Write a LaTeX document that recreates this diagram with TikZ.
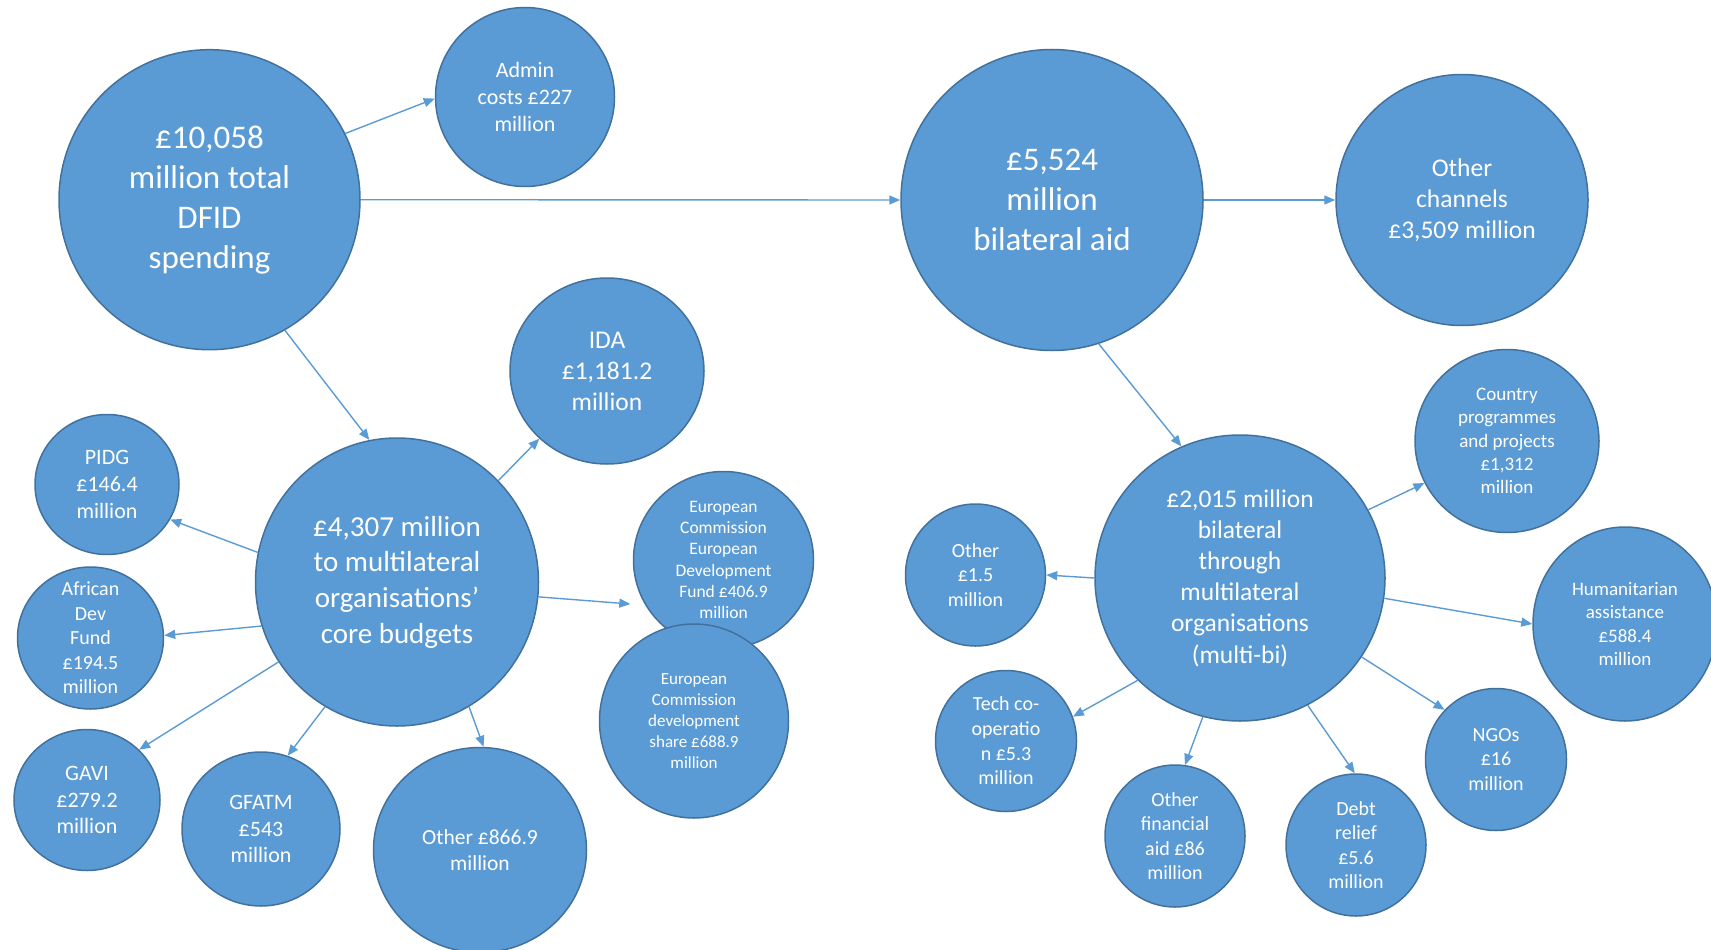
\documentclass[tikz,border=0pt]{standalone}
\usepackage{fontspec}
\setmainfont{Carlito}
\usetikzlibrary{shapes.geometric, arrows.meta}

\definecolor{bubblefill}{HTML}{5B9BD5}
\definecolor{bubbleedge}{HTML}{41719C}

\tikzset{
  bubble/.style={ellipse, draw=bubbleedge, line width=1.5pt, fill=bubblefill,
    text=white, align=center, inner sep=-20pt},
  flow/.style={draw=bubblefill, line width=1.4pt, -{Triangle[length=11pt, width=9pt]}},
}
\newcommand{\fs}[2]{\fontsize{#1}{#2}\selectfont}

\begin{document}
\begin{tikzpicture}[x=1pt, y=-1pt]
  \useasboundingbox (0,0) rectangle (1711,950);

  % top row: total spending, admin, bilateral
  \node[bubble, minimum width=301, minimum height=300, font=\fs{33}{40}] (total) at (209.5,199.7)
    {£10,058\\million total\\DFID\\spending};
  \node[bubble, minimum width=179, minimum height=179, font=\fs{22}{26.7}] (admin) at (525,97)
    {Admin\\costs £227\\million};
  \node[bubble, minimum width=302, minimum height=301, font=\fs{33}{40}] (bilat) at (1052,200)
    {£5,524\\million\\bilateral aid};
  \node[bubble, minimum width=252, minimum height=251, font=\fs{25.5}{31}] (channels) at (1462,200)
    {Other\\channels\\£3,509 million};

  % multilateral core budgets and where they go
  \node[bubble, minimum width=283, minimum height=288, font=\fs{29}{35.7}] (multi) at (397,582)
    {£4,307 million\\to multilateral\\organisations’\\core budgets};
  \node[bubble, minimum width=194, minimum height=186, font=\fs{25.5}{31}] (ida) at (607,371)
    {IDA\\£1,181.2\\million};
  \node[bubble, minimum width=144, minimum height=140, font=\fs{22}{26.7}] (pidg) at (107,484.5)
    {PIDG\\£146.4\\million};
  \node[bubble, minimum width=146, minimum height=142, font=\fs{20}{24.5}] (afdf) at (90.5,638)
    {African\\Dev\\Fund\\£194.5\\million};
  \node[bubble, minimum width=146, minimum height=141, font=\fs{22}{26.7}] (gavi) at (87,800)
    {GAVI\\£279.2\\million};
  \node[bubble, minimum width=158, minimum height=154, font=\fs{22}{26.7}] (gfatm) at (261,829)
    {GFATM\\£543\\million};
  \node[bubble, minimum width=213, minimum height=205, font=\fs{21.5}{26.2}] (othermulti) at (480,850)
    {Other £866.9\\million};
  \node[bubble, minimum width=180, minimum height=177, font=\fs{17.5}{21.2}] (ecedf) at (723.5,560)
    {European\\Commission\\European\\Development\\Fund £406.9\\million};
  \node[bubble, minimum width=189, minimum height=194, font=\fs{17}{21}] (ecdev) at (694,721)
    {European\\Commission\\development\\share £688.9\\million};

  % multi-bi and its channels
  \node[bubble, minimum width=290, minimum height=286, font=\fs{25.5}{31.2}] (multibi) at (1240,578)
    {£2,015 million\\bilateral\\through\\multilateral\\organisations\\(multi-bi)};
  \node[bubble, minimum width=184, minimum height=183, font=\fs{19}{23.2}] (country) at (1507,441)
    {Country\\programmes\\and projects\\£1,312\\million};
  \node[bubble, minimum width=140, minimum height=142, font=\fs{20}{24.5}] (otherbi) at (975.5,575)
    {Other\\£1.5\\million};
  \node[bubble, minimum width=184, minimum height=194, font=\fs{19}{23.3}] (human) at (1625,624)
    {Humanitarian\\assistance\\£588.4\\million};
  \node[bubble, minimum width=141, minimum height=141, font=\fs{20}{24.7}] (techco) at (1006,741)
    {Tech co-\\operatio\\n £5.3\\million};
  \node[bubble, minimum width=140, minimum height=142, font=\fs{20}{24.4}] (otherfin) at (1175,836)
    {Other\\financial\\aid £86\\million};
  \node[bubble, minimum width=140, minimum height=142, font=\fs{20}{24.4}] (debt) at (1356,845)
    {Debt\\relief\\£5.6\\million};
  \node[bubble, minimum width=141, minimum height=142, font=\fs{20}{24.5}] (ngos) at (1496,759.5)
    {NGOs\\£16\\million};

  % connectors, leaving and entering the bubbles at set angles
  \foreach \a/\b in {total.26/admin.181, total.0/bilat.180, total.-60/multi.101,
      bilat.0/channels.180, bilat.-72/multibi.114,
      multi.45/ida.-135, multi.168/pidg.-29, multi.-162/afdf.2, multi.214/gavi.44,
      multi.240/gfatm.70, multi.-60/othermulti.88,
      multibi.28/country.207, multibi.180/otherbi.0, multibi.-8/human.180,
      multibi.225/techco.20, multibi.255/otherfin.82, multibi.-62/debt.91,
      multibi.-33/ngos.136} {
    \draw[flow] (\a) -- (\b);
  }
  % this one stops short of the fund bubble
  \draw[flow, shorten >=15pt] (multi.-6) -- (ecedf.210);
\end{tikzpicture}
\end{document}
